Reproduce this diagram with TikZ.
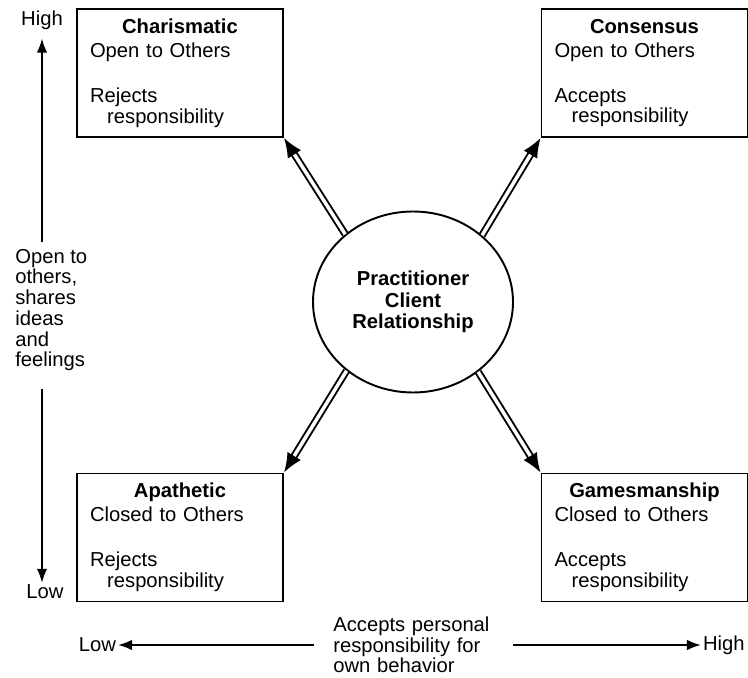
\documentclass[tikz,border=0pt]{standalone}
\usepackage{fontspec}
\setmainfont{Liberation Sans}
\usepackage{tikz}
\usetikzlibrary{shapes,arrows.meta,positioning,calc}

\begin{document}
\begin{tikzpicture}[
    quad/.style={rectangle, draw, line width=1.1pt, minimum width=4.12cm, minimum height=2.56cm, text width=3.6cm, inner xsep=0.26cm, inner ysep=0pt, align=left, font=\fontsize{11.5}{11.8}\selectfont},
    hub/.style={ellipse, draw, line width=1.1pt, minimum width=4cm, minimum height=3.62cm, inner sep=0pt, align=center, font=\fontsize{11.5}{12.2}\selectfont\bfseries},
    axlabel/.style={inner sep=1pt, align=left, font=\fontsize{11.5}{11.8}\selectfont},
    axis/.style={-{Latex[length=8pt, width=6pt]}, line width=1.1pt},
    dblarrow/.style={double, double distance=2pt, line width=1.1pt, -{Latex[length=11pt, width=9pt]}}
]
\useasboundingbox (0, 0) rectangle (14.96, 13.54);

% quadrants
\node[quad] (chari) at (3.6, 12.08) {\makebox[\linewidth]{\bfseries Charismatic}\\[1.8pt]
    Open to Others\\[13.8pt] Rejects\\ \hspace*{0.85em}responsibility};
\node[quad] (cons) at (12.89, 12.08) {\makebox[\linewidth]{\bfseries Consensus}\\[1.8pt]
    Open to Others\\[13.8pt] Accepts\\ \hspace*{0.85em}responsibility};
\node[quad] (apath) at (3.6, 2.79) {\makebox[\linewidth]{\bfseries Apathetic}\\[1.8pt]
    Closed to Others\\[13.8pt] Rejects\\ \hspace*{0.85em}responsibility};
\node[quad] (games) at (12.89, 2.79) {\makebox[\linewidth]{\bfseries Gamesmanship}\\[1.8pt]
    Closed to Others\\[13.8pt] Accepts\\ \hspace*{0.85em}responsibility};

\node[hub] (pcr) at (8.26, 7.50) {Practitioner\\Client\\Relationship};

\draw[dblarrow] (pcr.135.4) -- (chari.south east);
\draw[dblarrow] (pcr.44.3) -- (cons.south west);
\draw[dblarrow] (pcr.226.4) -- (apath.north east);
\draw[dblarrow] (pcr.313) -- (games.north west);

% vertical axis
\node[axlabel, inner ysep=5pt] (vhigh) at (0.84, 13.14) {High};
\node[axlabel] (vlow) at (0.90, 1.70) {Low};
\node[axlabel, anchor=west, inner xsep=0pt, inner ysep=0.14cm] (vlab) at (0.30, 7.34)
    {Open to\\others,\\shares\\ideas\\and\\feelings};
\draw[axis] (vlab.north -| vhigh.south) -- (vhigh.south);
\draw[axis, shorten <=0.22cm] (vlab.south -| vhigh.south) -- (vhigh.south |- vlow.north);

% horizontal axis
\node[axlabel, anchor=east] (hlow) at (2.36, 0.64) {Low};
\node[axlabel, anchor=west] (hhigh) at (14.02, 0.64) {High};
\node[axlabel, anchor=west, text width=3.2cm, inner xsep=0.38cm] (hlab) at (6.28, 0.64)
    {Accepts personal\\responsibility for\\own behavior};
\draw[axis] (hlab.west) -- (hlow.east);
\draw[axis] (hlab.east) -- (hhigh.west);
\end{tikzpicture}
\end{document}
